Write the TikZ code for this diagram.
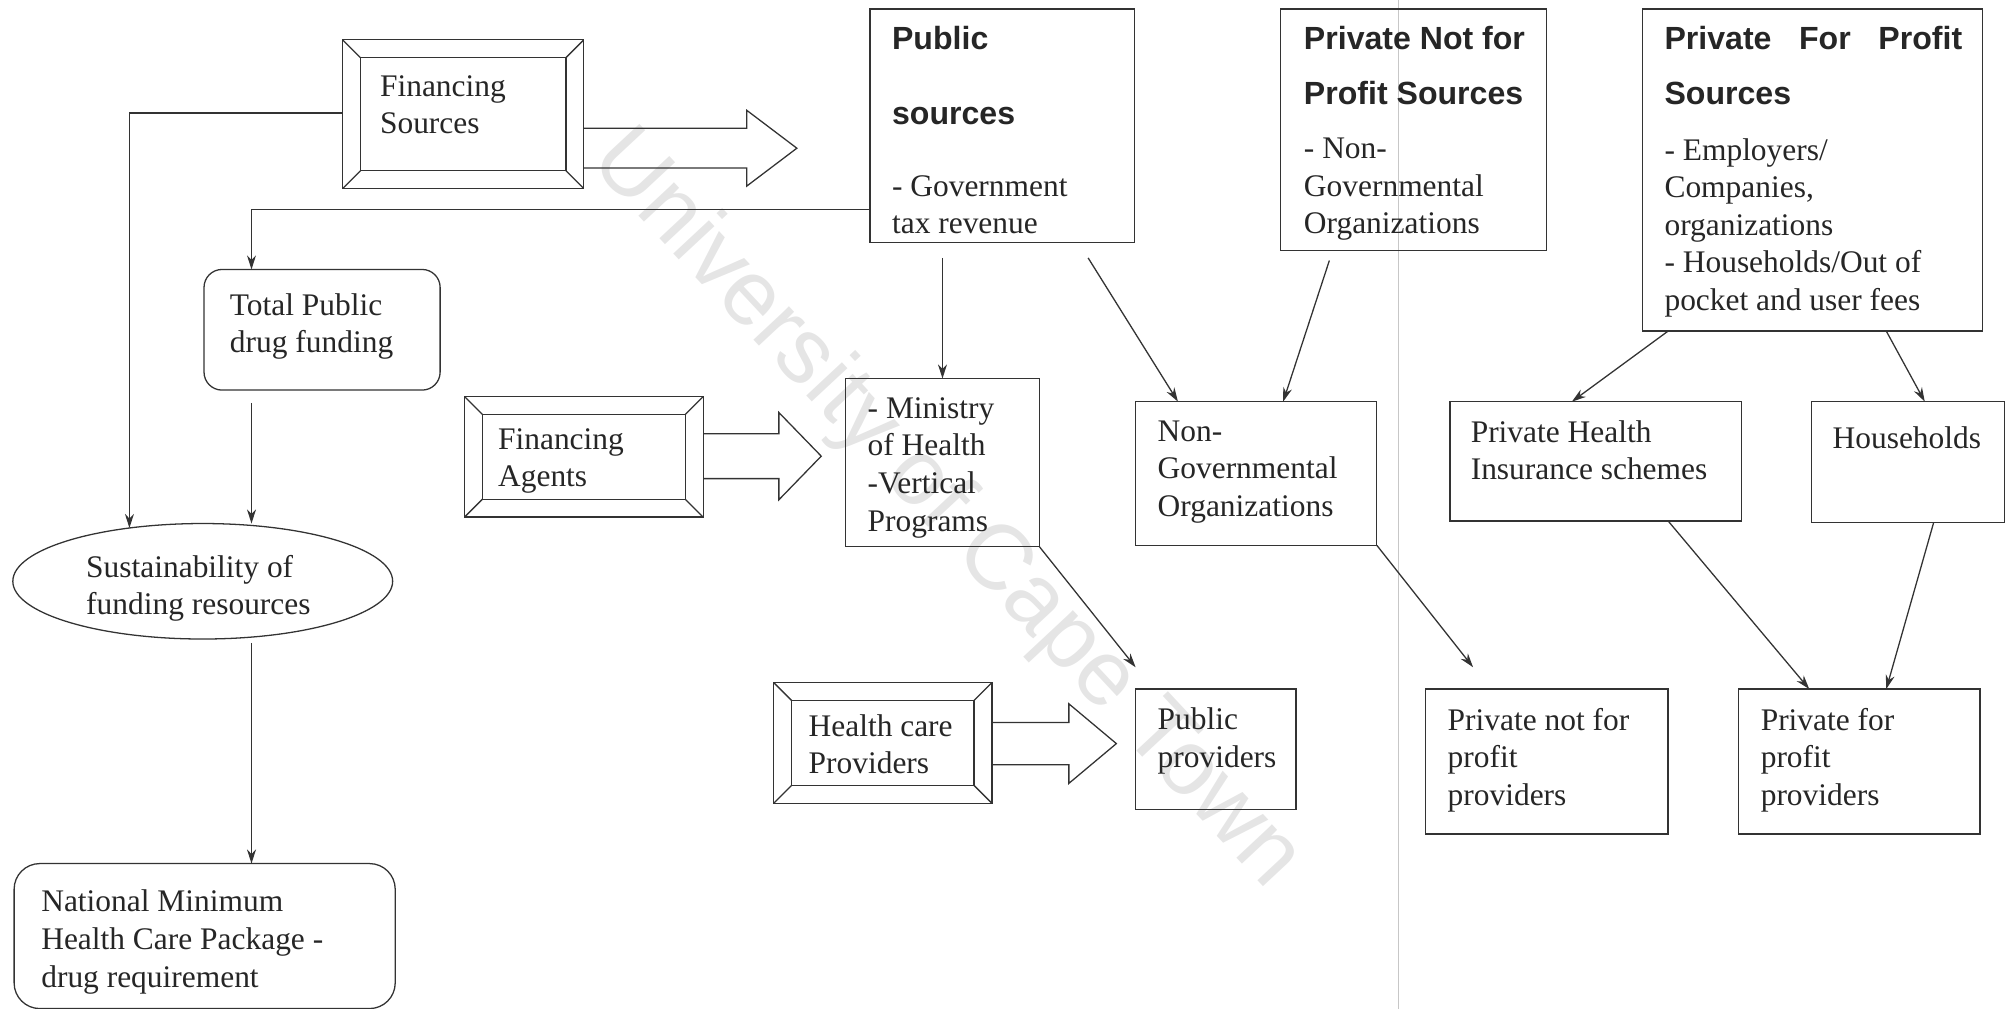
\documentclass[tikz,border=0pt]{standalone}
\usepackage{fontspec}
\setmainfont{Liberation Serif}
\newfontfamily\headfont{Liberation Sans}
\usetikzlibrary{arrows.meta,calc,shapes.geometric}
\begin{document}
\begin{tikzpicture}[x=1pt,y=1pt,
  ln/.style={draw=black!80, line width=1pt},
  box/.style={ln, inner sep=0pt, outer sep=0pt, anchor=north west},
  rbox/.style={box, rounded corners=14pt},
  bevel/.style={box, path picture={
    \draw[black!80, line width=1pt]
      ($(path picture bounding box.north west)+(14pt,-14pt)$) rectangle
      ($(path picture bounding box.south east)+(-14pt,14pt)$);
    \draw[black!80, line width=1pt]
      (path picture bounding box.north west) -- ++(14pt,-14pt)
      (path picture bounding box.north east) -- ++(-14pt,-14pt)
      (path picture bounding box.south west) -- ++(14pt,14pt)
      (path picture bounding box.south east) -- ++(-14pt,14pt);}},
  txt/.style={anchor=north west, inner sep=0pt, align=left, text=black!85,
    font=\fontsize{24.5}{29.3}\selectfont, execute at begin node=\strut},
  hd/.style={txt, font=\headfont\bfseries\fontsize{25}{29.3}\selectfont},
  conn/.style={ln, -{Stealth[length=11pt,width=7pt]}},
  barrow/.style={ln, line join=miter}
]
\useasboundingbox (0,0) rectangle (1568,-786);

% watermark and scan line
\node[rotate=-47, text=black!10, font=\headfont\fontsize{72}{80}\selectfont] (wm) at (737,-398) {University of Cape Town};
\draw[black!22, line width=0.8pt] (1090,0) -- (1090,-786);

% boxes
\node[bevel, minimum width=188, minimum height=116] (FS) at (267,-31) {};
\node[box, minimum width=206, minimum height=182] (PS) at (678,-7) {};
\node[box, minimum width=207, minimum height=188] (PNFP) at (998,-7) {};
\node[box, minimum width=265, minimum height=251] (PFP) at (1280,-7) {};
\node[rbox, minimum width=184, minimum height=94] (TP) at (159,-210) {};
\node[ellipse, ln, inner sep=0pt, outer sep=0pt, minimum width=296, minimum height=90] (SUS) at (158,-453) {};
\node[box, rounded corners=20pt, minimum width=297, minimum height=113] (NM) at (11,-673) {};
\node[bevel, minimum width=186, minimum height=94] (FA) at (362,-309) {};
\node[box, minimum width=151, minimum height=131] (MoH) at (659,-295) {};
\node[box, minimum width=188, minimum height=112] (NGO) at (885,-313) {};
\node[box, minimum width=227, minimum height=93] (PHI) at (1130,-313) {};
\node[box, minimum width=150, minimum height=94] (HH) at (1412,-313) {};
\node[bevel, minimum width=170, minimum height=94] (HCP) at (603,-532) {};
\node[box, minimum width=125, minimum height=94] (PP) at (885,-537) {};
\node[box, minimum width=189, minimum height=113] (PNP) at (1111,-537) {};
\node[box, minimum width=188, minimum height=113] (PFPP) at (1355,-537) {};

% texts
\node[txt] (FS-t) at (296,-58.5) {Financing\\Sources};
\node[hd] (PS-h) at (695,-20.5) {Public\\[28.7pt]sources};
\node[txt] (PS-t) at (695,-136.5) {- Government\\tax revenue};
\node[hd] (PNFP-h) at (1016,-20.5) {Private Not for\\[13.7pt]Profit Sources};
\node[txt] (PNFP-t) at (1016,-107.5) {- Non-\\Governmental\\Organizations};
\node[hd] (PFP-h) at (1297,-20.5) {\makebox[232pt][s]{Private For Profit}\\[13.7pt]Sources};
\node[txt] (PFP-t) at (1297,-107.5) {- Employers/\\Companies,\\organizations\\- Households/Out of\\pocket and user fees};
\node[txt] (TP-t) at (179,-228.5) {Total Public\\drug funding};
\node[txt] (SUS-t) at (67,-432.5) {Sustainability of\\funding resources};
\node[txt] (NM-t) at (32,-693.5) {National Minimum\\Health Care Package -\\drug requirement};
\node[txt] (FA-t) at (388,-333.5) {Financing\\Agents};
\node[txt] (MoH-t) at (676,-309.5) {- Ministry\\of Health\\-Vertical\\Programs};
\node[txt] (NGO-t) at (902,-327.5) {Non-\\Governmental\\Organizations};
\node[txt] (PHI-t) at (1146,-327.5) {Private Health\\Insurance schemes};
\node[txt] (HH-t) at (1428,-328.5) {Households};
\node[txt] (HCP-t) at (630,-556.5) {Health care\\Providers};
\node[txt] (PP-t) at (902,-551.5) {Public\\providers};
\node[txt] (PNP-t) at (1128,-551.5) {Private not for\\profit\\providers};
\node[txt] (PFPP-t) at (1372,-551.5) {Private for\\profit\\providers};

% block arrows
\draw[barrow] ($(FS.north east)+(0,-69)$) -- ++(127,0) -- ++(0,14) -- ++(39,-29.5) -- ++(-39,-29.5) -- ++(0,14) -- ++(-127,0);
\draw[barrow] ($(FA.north east)+(0,-29)$) -- ++(59,0) -- ++(0,16.5) -- ++(33,-34) -- ++(-33,-34) -- ++(0,16.5) -- ++(-59,0);
\draw[barrow] ($(HCP.north east)+(0,-31)$) -- ++(60,0) -- ++(0,14.5) -- ++(37,-31) -- ++(-37,-31) -- ++(0,14.5) -- ++(-60,0);

% connectors
\coordinate (fsl) at ($(FS.north west)+(0,-57)$);
\draw[conn] (fsl) -| (SUS.144.5);
\coordinate (psl) at ($(PS.south west)+(0,26)$);
\coordinate (tpin) at ($(TP.north west)+(37,0)$);
\draw[conn] (psl) -| (tpin);
\coordinate (tpout) at ($(TP.south west)+(37,-10)$);
\draw[conn] (tpout) -- (tpout |- SUS.north);
\coordinate (susout) at ($(SUS.south -| tpout)+(0,-3)$);
\draw[conn] (susout) -- (susout |- NM.north);
\coordinate (psb) at ($(PS.south -| MoH.north)+(0,-12)$);
\draw[conn] (psb) -- (MoH.north);
\draw[conn] ($(PS.south east)+(-36,-12)$) -- ($(NGO.north west)+(33,0)$);
\draw[conn] ($(PNFP.south west)+(38,-8)$) -- ($(NGO.north west)+(115,0)$);
\draw[conn] ($(PFP.south west)+(20,0)$) -- ($(PHI.north west)+(95,0)$);
\draw[conn] ($(PFP.south west)+(190,0)$) -- ($(HH.north west)+(88,0)$);
\draw[conn] (MoH.south east) -- ($(PP.north west)+(0,17)$);
\draw[conn] (NGO.south east) -- ($(PNP.north west)+(37,17)$);
\draw[conn] ($(PHI.south west)+(170,0)$) -- ($(PFPP.north west)+(55,0)$);
\draw[conn] ($(HH.south west)+(95,0)$) -- ($(PFPP.north west)+(115,0)$);
\end{tikzpicture}
\end{document}
